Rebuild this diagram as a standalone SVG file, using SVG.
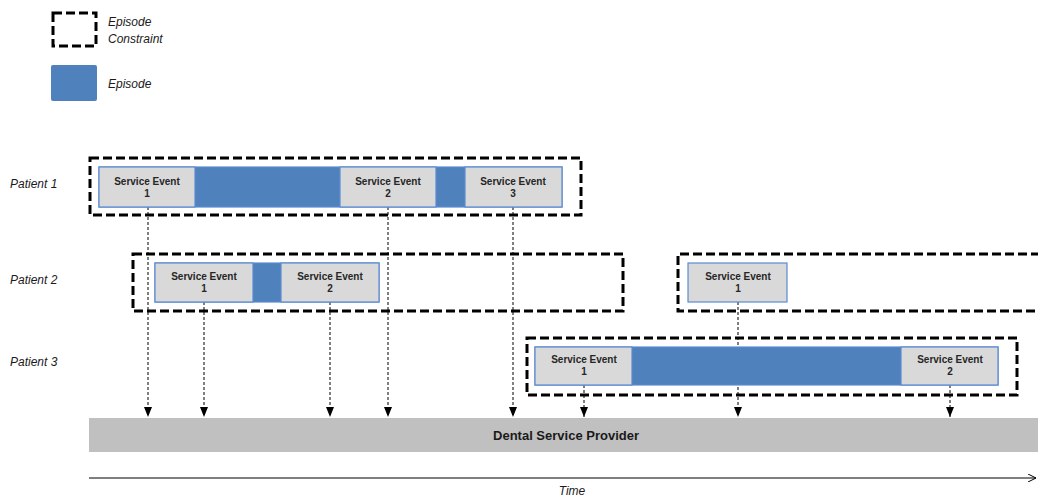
<svg xmlns="http://www.w3.org/2000/svg" width="1038" height="497" viewBox="0 0 1038 497">
<defs>
<marker id="ah" markerWidth="10" markerHeight="8" refX="10" refY="4" orient="auto" markerUnits="userSpaceOnUse" viewBox="0 0 10 8">
<path d="M0,0 L10,4 L0,8 Z" fill="#000"/>
</marker>
<marker id="open" markerWidth="8" markerHeight="8" refX="8" refY="4" orient="auto" markerUnits="userSpaceOnUse" viewBox="0 0 8 8">
<path d="M0,0 L8,4 L0,8" fill="none" stroke="#000" stroke-width="1"/>
</marker>
<style>
.cons{fill:none;stroke:#000;stroke-width:3;stroke-dasharray:9,4}
.ep{fill:#4f81bd}
.se{fill:#d9d9d9;stroke:#5b8bd0;stroke-width:1.2}
.bar{fill:#4f81bd;stroke:#5b8bd0;stroke-width:1.2}
.t{font-family:"Liberation Sans",Arial,sans-serif;font-size:10px;font-weight:bold;fill:#262626;text-anchor:middle}
.lab{font-family:"Liberation Sans",Arial,sans-serif;font-size:12px;font-style:italic;fill:#1a1a1a}
.conn{stroke:#000;stroke-width:1;stroke-dasharray:3,2;fill:none;marker-end:url(#ah)}
</style>
</defs>
<rect width="1038" height="497" fill="#fff"/>

<g id="legend">
<rect class="cons" x="53" y="13" width="43" height="33"/>
<text class="lab" x="108" y="26">Episode</text>
<text class="lab" x="108" y="43">Constraint</text>
<rect class="ep" x="51" y="65" width="46" height="36" rx="2"/>
<text class="lab" x="108" y="88">Episode</text>
</g>

<g id="labels">
<text class="lab" x="10" y="188">Patient 1</text>
<text class="lab" x="10" y="284">Patient 2</text>
<text class="lab" x="10" y="366">Patient 3</text>
</g>

<g id="connectors">
<line class="conn" x1="148" y1="207" x2="148" y2="417"/>
<line class="conn" x1="388" y1="207" x2="388" y2="417"/>
<line class="conn" x1="513" y1="207" x2="513" y2="417"/>
<line class="conn" x1="204" y1="302" x2="204" y2="417"/>
<line class="conn" x1="330" y1="302" x2="330" y2="417"/>
<line class="conn" x1="738" y1="302" x2="738" y2="417"/>
<line class="conn" x1="584" y1="385" x2="584" y2="417"/>
<line class="conn" x1="950" y1="385" x2="950" y2="417"/>
</g>

<g id="patient1">
<rect class="cons" x="90" y="158" width="491" height="57"/>
<rect class="bar" x="99" y="167" width="463" height="40"/>
<g id="p1-se1"><rect class="se" x="99" y="167" width="96" height="40"/><text class="t" x="147" y="185">Service Event</text><text class="t" x="147" y="197">1</text></g>
<g id="p1-se2"><rect class="se" x="340" y="167" width="96" height="40"/><text class="t" x="388" y="185">Service Event</text><text class="t" x="388" y="197">2</text></g>
<g id="p1-se3"><rect class="se" x="465" y="167" width="97" height="40"/><text class="t" x="513" y="185">Service Event</text><text class="t" x="513" y="197">3</text></g>
</g>

<g id="patient2">
<rect class="cons" x="133" y="254" width="490" height="57"/>
<rect class="bar" x="155" y="263" width="224" height="39"/>
<g id="p2-se1"><rect class="se" x="155" y="263" width="98" height="39"/><text class="t" x="204" y="280">Service Event</text><text class="t" x="204" y="292">1</text></g>
<g id="p2-se2"><rect class="se" x="281" y="263" width="98" height="39"/><text class="t" x="330" y="280">Service Event</text><text class="t" x="330" y="292">2</text></g>
<path class="cons" d="M1040,254 H678 V311 H1040"/>
<g id="p2b-se1"><rect class="se" x="688" y="263" width="99" height="39"/><text class="t" x="738" y="280">Service Event</text><text class="t" x="738" y="292">1</text></g>
</g>

<g id="patient3">
<rect class="cons" x="527" y="338" width="490" height="57"/>
<rect class="bar" x="535" y="347" width="463" height="38"/>
<g id="p3-se1"><rect class="se" x="535" y="347" width="97" height="38"/><text class="t" x="584" y="363">Service Event</text><text class="t" x="584" y="375">1</text></g>
<g id="p3-se2"><rect class="se" x="901" y="347" width="97" height="38"/><text class="t" x="950" y="363">Service Event</text><text class="t" x="950" y="375">2</text></g>
</g>

<g id="provider">
<rect x="89" y="418" width="949" height="34" fill="#c0c0c0"/>
<text x="566" y="440" font-family="Liberation Sans,Arial,sans-serif" font-size="13" font-weight="bold" fill="#1a1a1a" text-anchor="middle">Dental Service Provider</text>
</g>

<g id="time">
<line x1="89" y1="478" x2="1036" y2="478" stroke="#000" stroke-width="1.2" marker-end="url(#open)"/>
<text class="lab" x="572" y="495" text-anchor="middle">Time</text>
</g>
</svg>
